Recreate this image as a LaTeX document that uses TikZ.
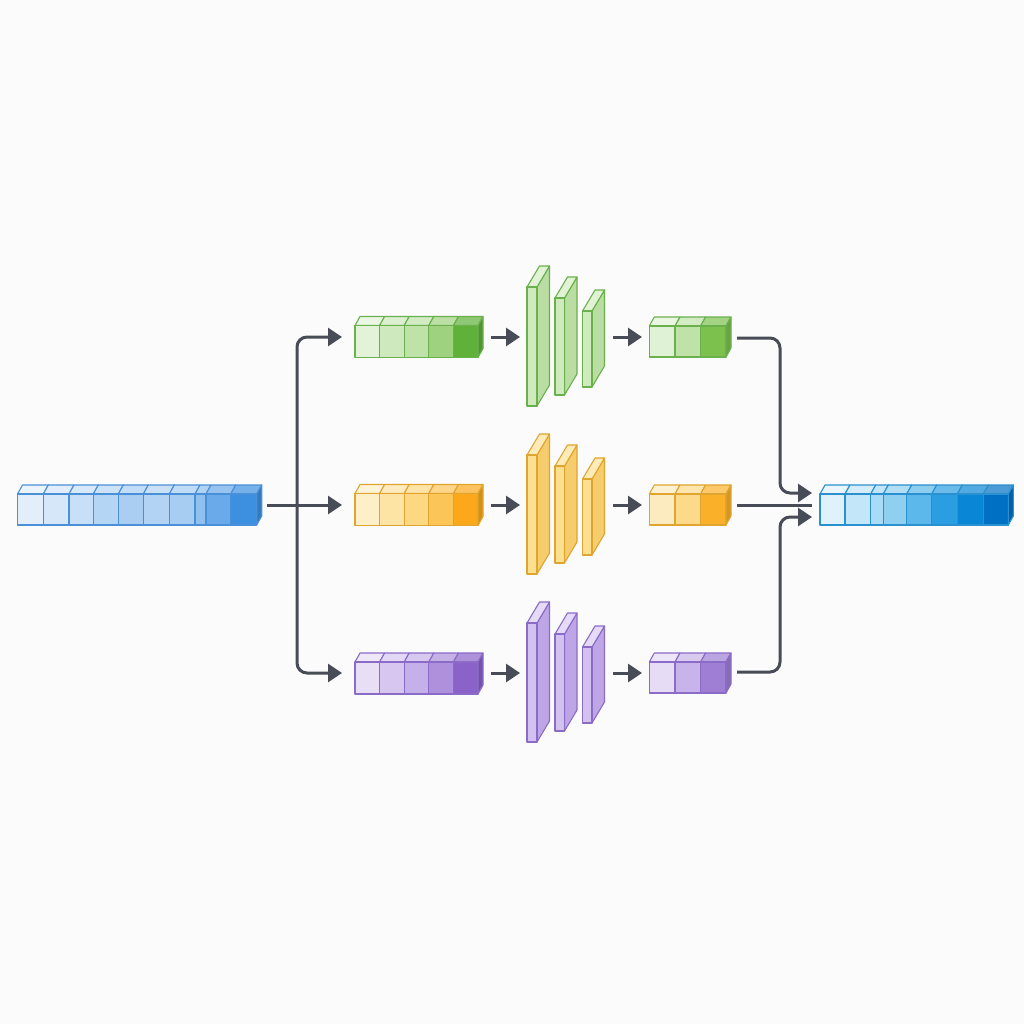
\documentclass[tikz,border=0pt]{standalone}
\usetikzlibrary{arrows.meta}
\definecolor{conn}{HTML}{474C56}
\definecolor{bgc}{HTML}{FBFBFB}
\tikzset{
  connline/.style={draw=conn,line width=3pt,rounded corners=10pt},
  connarrow/.style={connline,-{Triangle[length=14pt,width=18pt]}},
  cellline/.style={line width=1.1pt,line join=round}
}
% cell: x1, x2, ytop, ybottom, fill colour, stroke colour
\newcommand{\drawcell}[6]{%
  \filldraw[cellline,draw=#6,fill=#5!70!white] (#1,#3) -- ({#1+5},{#3-9}) -- ({#2+5},{#3-9}) -- (#2,#3) -- cycle;
  \filldraw[cellline,draw=#6,fill=#5] (#1,#3) rectangle (#2,#4);
}
\newcommand{\drawcellend}[6]{%
  \filldraw[cellline,draw=#6,fill=#5!85!black] (#2,#3) -- ({#2+5},{#3-9}) -- ({#2+5},{#4-9}) -- (#2,#4) -- cycle;
}
% plate: x1, x2, ytop, ybottom, front, side, top, stroke
\newcommand{\drawplate}[8]{%
  \filldraw[cellline,draw=#8,fill=#6] (#2,#3) -- ({#2+12.5},{#3-21}) -- ({#2+12.5},{#4-21}) -- (#2,#4) -- cycle;
  \filldraw[cellline,draw=#8,fill=#7] (#1,#3) -- ({#1+12.5},{#3-21}) -- ({#2+12.5},{#3-21}) -- (#2,#3) -- cycle;
  \filldraw[cellline,draw=#8,fill=#5] (#1,#3) rectangle (#2,#4);
}
\begin{document}
\begin{tikzpicture}[x=1pt,y=-1pt]
\fill[bgc] (0,0) rectangle (1024,1024);
\useasboundingbox (0,0) rectangle (1024,1024);

% ---------- input bar ----------
\definecolor{inS}{HTML}{4A90D9}
\foreach \a/\b/\c in {17.5/43.3/E2EFFB,43.3/69/D5E7F9,69/93.3/C7DFF7,93.3/118.3/B5D5F4,118.3/143.3/A9CEF2,143.3/169.3/B2D3F3,169.3/195/A7CDF2,195/206/8FC0EE,206/230.7/6AAAEA,230.7/256.7/3D8FE0}{
  \definecolor{cc}{HTML}{\c}
  \drawcell{\a}{\b}{494}{525}{cc}{inS}
}
\definecolor{cc}{HTML}{3D8FE0}
\drawcellend{230.7}{256.7}{494}{525}{cc}{inS}

% ---------- output bar ----------
\definecolor{outS}{HTML}{2A90D0}
\foreach \a/\b/\c in {820/845/DFF2FC,845/870.7/C3E6F8,870.7/883.3/A8DBF5,883.3/906.7/8FD0F1,906.7/931.7/5CB8EA,931.7/957.3/2A9EE0,957.3/983.3/0A86D6,983.3/1008.3/0070C4}{
  \definecolor{cc}{HTML}{\c}
  \drawcell{\a}{\b}{494}{525}{cc}{outS}
}
\definecolor{cc}{HTML}{0070C4}
\drawcellend{983.3}{1008.3}{494}{525}{cc}{outS}

% ---------- branches ----------
% green
\definecolor{gS}{HTML}{6AB04C}
\foreach \a/\b/\c in {355/379.6/E3F3DA,379.6/404.2/CDE9BD,404.2/428.8/BFE2A9,428.8/453.4/9FD27F,453.4/478/5FB13A}{
  \definecolor{cc}{HTML}{\c}
  \drawcell{\a}{\b}{325.5}{357.5}{cc}{gS}
}
\definecolor{cc}{HTML}{5FB13A}
\drawcellend{453.4}{478}{325.5}{357.5}{cc}{gS}
\definecolor{pf}{HTML}{CFEABD}\definecolor{ps}{HTML}{B9DDA2}\definecolor{pt}{HTML}{E2F3D5}
\drawplate{527}{537}{287}{406}{pf}{ps}{pt}{gS}
\drawplate{555}{564.5}{298}{395}{pf}{ps}{pt}{gS}
\drawplate{582.5}{592}{311}{387}{pf}{ps}{pt}{gS}
\foreach \a/\b/\c in {649.3/675/E0F2D5,675/700.6/BFE2A8,700.6/726/7CC04E}{
  \definecolor{cc}{HTML}{\c}
  \drawcell{\a}{\b}{326}{357}{cc}{gS}
}
\definecolor{cc}{HTML}{7CC04E}
\drawcellend{700.6}{726}{326}{357}{cc}{gS}

% orange
\definecolor{oS}{HTML}{DFA530}
\foreach \a/\b/\c in {355/379.6/FDEFC8,379.6/404.2/FDE3A4,404.2/428.8/FDD883,428.8/453.4/FCC558,453.4/478/FBA81A}{
  \definecolor{cc}{HTML}{\c}
  \drawcell{\a}{\b}{493.5}{525.5}{cc}{oS}
}
\definecolor{cc}{HTML}{FBA81A}
\drawcellend{453.4}{478}{493.5}{525.5}{cc}{oS}
\definecolor{pf}{HTML}{FDDF90}\definecolor{ps}{HTML}{F6CD6C}\definecolor{pt}{HTML}{FEEBB8}
\drawplate{527}{537}{455}{574}{pf}{ps}{pt}{oS}
\drawplate{555}{564.5}{466}{563}{pf}{ps}{pt}{oS}
\drawplate{582.5}{592}{479}{555}{pf}{ps}{pt}{oS}
\foreach \a/\b/\c in {649.3/675/FDEBC0,675/700.6/FDD98A,700.6/726/FBB02A}{
  \definecolor{cc}{HTML}{\c}
  \drawcell{\a}{\b}{494}{525}{cc}{oS}
}
\definecolor{cc}{HTML}{FBB02A}
\drawcellend{700.6}{726}{494}{525}{cc}{oS}

% purple
\definecolor{vS}{HTML}{8A6CC8}
\foreach \a/\b/\c in {355/379.6/E8DEF6,379.6/404.2/D6C6F0,404.2/428.8/C6B0EA,428.8/453.4/AE90DD,453.4/478/8A62C8}{
  \definecolor{cc}{HTML}{\c}
  \drawcell{\a}{\b}{662}{694}{cc}{vS}
}
\definecolor{cc}{HTML}{8A62C8}
\drawcellend{453.4}{478}{662}{694}{cc}{vS}
\definecolor{pf}{HTML}{D3C2F0}\definecolor{ps}{HTML}{BEA6E6}\definecolor{pt}{HTML}{E5DAF7}
\drawplate{527}{537}{623}{742}{pf}{ps}{pt}{vS}
\drawplate{555}{564.5}{634}{731}{pf}{ps}{pt}{vS}
\drawplate{582.5}{592}{647}{723}{pf}{ps}{pt}{vS}
\foreach \a/\b/\c in {649.3/675/E6DCF5,675/700.6/C8B4EA,700.6/726/9E7FD3}{
  \definecolor{cc}{HTML}{\c}
  \drawcell{\a}{\b}{662}{693}{cc}{vS}
}
\definecolor{cc}{HTML}{9E7FD3}
\drawcellend{700.6}{726}{662}{693}{cc}{vS}

% ---------- connector points ----------
\coordinate (inR) at (267,505);
\coordinate (split) at (297,505);
\coordinate (gIn) at (342,337);
\coordinate (oIn) at (342,505);
\coordinate (vIn) at (342,673);
\coordinate (gBarR) at (491,337);
\coordinate (gConvL) at (520,337);
\coordinate (oBarR) at (491,505);
\coordinate (oConvL) at (520,505);
\coordinate (vBarR) at (491,673);
\coordinate (vConvL) at (520,673);
\coordinate (gConvR) at (613,337);
\coordinate (gOutL) at (642,337);
\coordinate (oConvR) at (613,505);
\coordinate (oOutL) at (642,505);
\coordinate (vConvR) at (613,673);
\coordinate (vOutL) at (642,673);
\coordinate (gOutR) at (737,338);
\coordinate (oOutR) at (737,505);
\coordinate (vOutR) at (737,672);
\coordinate (mergeTop) at (812,493);
\coordinate (mergeMid) at (812,505);
\coordinate (mergeBot) at (812,517);

% ---------- connectors ----------
\draw[connline] (oOutR) -- (mergeMid);
\draw[connarrow] (gOutR) -- (780,338) -- (780,493) -- (mergeTop);
\draw[connarrow] (vOutR) -- (780,672) -- (780,517) -- (mergeBot);

\draw[connarrow] (inR) -- (oIn);
\draw[connarrow] (split) -- (297,337) -- (gIn);
\draw[connarrow] (split) -- (297,673) -- (vIn);

\draw[connarrow] (gBarR) -- (gConvL);
\draw[connarrow] (oBarR) -- (oConvL);
\draw[connarrow] (vBarR) -- (vConvL);
\draw[connarrow] (gConvR) -- (gOutL);
\draw[connarrow] (oConvR) -- (oOutL);
\draw[connarrow] (vConvR) -- (vOutL);
\end{tikzpicture}
\end{document}
